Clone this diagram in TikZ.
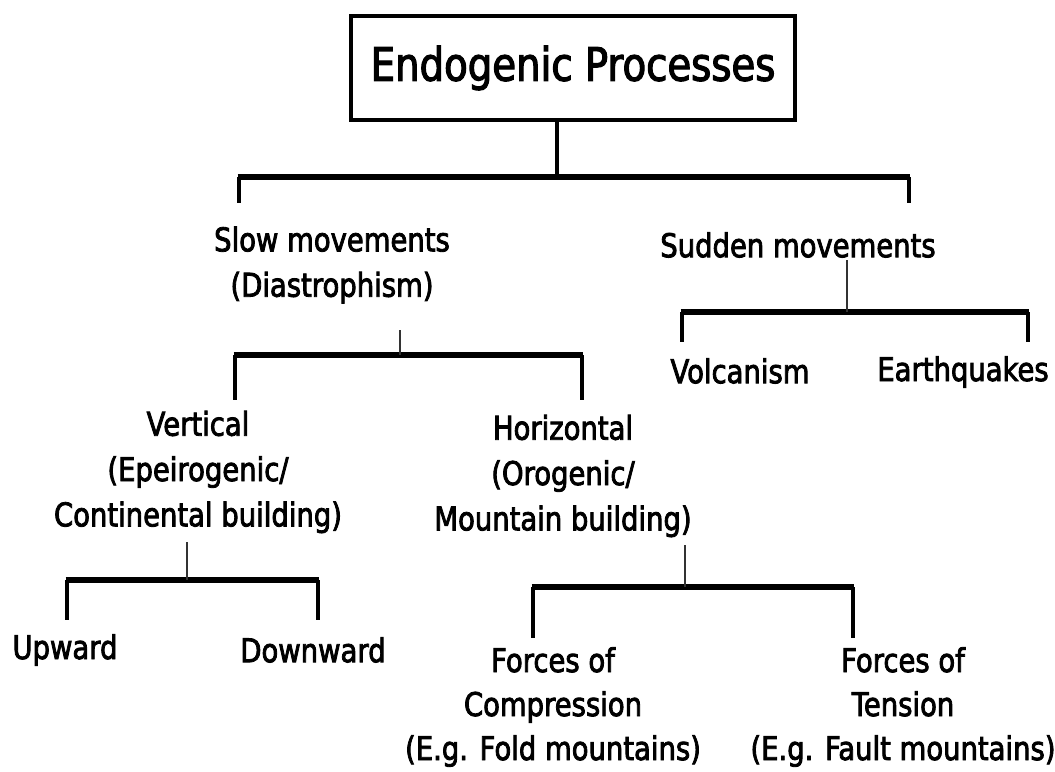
\documentclass[tikz,border=0pt]{standalone}
\usepackage{fontspec}
\setmainfont{DejaVu Sans}[FakeStretch=0.84,FakeBold=2.5]
\begin{document}
\begin{tikzpicture}
  [x=0.75pt,y=-0.75pt,
   every node/.style={inner sep=0pt,align=center,font=\fontsize{24.5pt}{34pt}\selectfont},
   titlebox/.style={draw,line width=2.4pt,minimum width=333pt,minimum height=78pt,
     font=\fontsize{34.5pt}{40pt}\selectfont},
   bar/.style={line width=4pt},
   drop/.style={line width=2.6pt},
   stem/.style={line width=1pt,black!80}]
  \useasboundingbox (0,0) rectangle (1055,771);

  % nodes
  \node[titlebox] (title) at (573,68) {Endogenic Processes};
  \node (slow) at (332,265) {Slow movements\\(Diastrophism)};
  \node (sudden) at (798,245) {Sudden movements};
  \node (vert) at (198,472) {Vertical\\(Epeirogenic/\\Continental building)};
  \node (horiz) at (563,476) {Horizontal\\(Orogenic/\\Mountain building)};
  \node (volc) at (740,371) {Volcanism};
  \node (quake) at (963,372) {Earthquakes};
  \node (up) at (65,650) {Upward};
  \node (down) at (313,650) {Downward};
  \node[font=\fontsize{24.5pt}{33pt}\selectfont] (comp) at (553,707) {Forces of\\Compression\\(E.g. Fold mountains)};
  \node[font=\fontsize{24.5pt}{33pt}\selectfont] (tens) at (903,707) {Forces of\\Tension\\(E.g. Fault mountains)};

  % junction points on the bars
  \coordinate (m1) at (557,177);
  \coordinate (m2) at (400,355);
  \coordinate (m3) at (847,312);
  \coordinate (m4) at (187,580);
  \coordinate (m5) at (685,587);
  \coordinate (t2) at (400,330);
  \coordinate (t3) at (847,260);
  \coordinate (t4) at (187,542);
  \coordinate (t5) at (685,545);

  % brackets: left end / right end / drop length
  \foreach \xl/\xr/\y/\d in {239/909/177/26,235/582/355/45,682/1028/312/30,67/318/580/40,533/853/587/51}
  {
    \draw[drop] (\xl,\y) -- ++(0,\d);
    \draw[drop] (\xr,\y) -- ++(0,\d);
    \draw[bar] (\xl-1.3,\y) -- (\xr+1.3,\y);
  }

  \draw[line width=3pt] (title.south -| m1) -- (m1);
  \foreach \from/\to in {t2/m2,t3/m3,t4/m4,t5/m5}
    \draw[stem] (\from) -- (\to);

\end{tikzpicture}
\end{document}
